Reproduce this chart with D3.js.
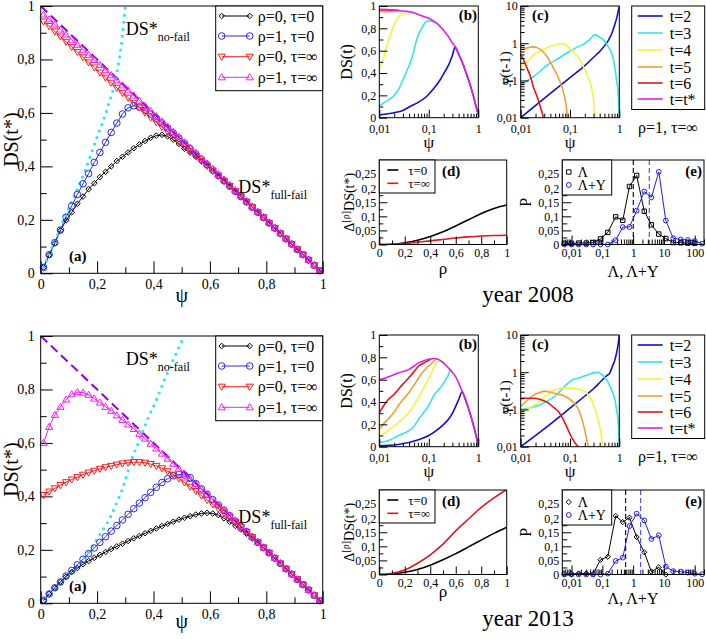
<!DOCTYPE html>
<html>
<head>
<meta charset="utf-8">
<script src="https://cdn.jsdelivr.net/npm/d3@7"></script>
<style>body{margin:0;background:#fff}</style>
</head>
<body>
<script>
const FONT = '"Liberation Serif", "Times New Roman", serif';

// ---------- data ----------
const psiA = [0.01,0.03,0.05,0.07,0.09,0.11,0.13,0.15,0.17,0.19,0.21,0.23,0.25,0.27,0.29,0.31,0.33,0.35,0.37,0.39,
  0.41,0.43,0.45,0.47,0.49,0.51,0.53,0.55,0.57,0.59,0.61,0.63,0.65,0.67,0.69,0.71,0.73,0.75,0.77,0.79,
  0.81,0.83,0.85,0.87,0.89,0.91,0.93,0.95,0.97,0.99];

const a08_r0t0 = [0.022,0.068,0.112,0.16,0.198,0.228,0.26,0.287,0.315,0.337,0.36,0.38,0.40,0.42,0.436,0.452,0.468,0.482,0.495,0.507,
  0.515,0.518,0.512,0.5,0.484,0.466,0.452,0.436,0.42,0.402,0.383,0.364,0.345,0.325,0.306,0.286,0.267,0.247,0.228,0.208,
  0.188,0.169,0.149,0.129,0.109,0.089,0.07,0.05,0.03,0.01];
const a08_r1t0 = [0.022,0.07,0.115,0.162,0.21,0.252,0.295,0.335,0.373,0.415,0.452,0.49,0.527,0.562,0.596,0.619,0.627,0.622,0.61,0.596,
  0.58,0.562,0.544,0.525,0.506,0.486,0.466,0.446,0.426,0.406,0.386,0.366,0.346,0.326,0.306,0.287,0.267,0.247,0.228,0.208,
  0.188,0.169,0.149,0.129,0.109,0.089,0.07,0.05,0.03,0.01];
const a08_r0tinf = [0.942,0.925,0.905,0.886,0.866,0.847,0.828,0.808,0.789,0.77,0.751,0.732,0.713,0.694,0.675,0.657,0.638,0.62,0.601,0.583,
  0.565,0.547,0.529,0.511,0.493,0.475,0.457,0.439,0.42,0.402,0.383,0.365,0.346,0.327,0.307,0.288,0.268,0.248,0.228,0.209,
  0.189,0.169,0.149,0.129,0.109,0.09,0.07,0.05,0.03,0.01];
const a08_r1tinf = [0.968,0.95,0.931,0.912,0.893,0.874,0.855,0.836,0.817,0.798,0.779,0.76,0.741,0.722,0.703,0.684,0.665,0.646,0.626,0.607,
  0.588,0.568,0.549,0.529,0.51,0.49,0.47,0.451,0.431,0.411,0.391,0.371,0.351,0.331,0.311,0.29,0.27,0.25,0.23,0.21,
  0.19,0.17,0.15,0.13,0.11,0.09,0.07,0.05,0.03,0.01];
const a13_r0t0 = [0.01,0.035,0.058,0.08,0.1,0.117,0.132,0.146,0.158,0.17,0.181,0.192,0.203,0.213,0.223,0.233,0.243,0.252,0.262,0.271,
  0.28,0.289,0.297,0.305,0.313,0.32,0.326,0.332,0.336,0.338,0.336,0.33,0.318,0.305,0.29,0.276,0.26,0.243,0.226,0.207,
  0.188,0.169,0.149,0.129,0.109,0.089,0.07,0.05,0.03,0.01];
const a13_r1t0 = [0.012,0.035,0.058,0.08,0.102,0.123,0.144,0.165,0.186,0.207,0.228,0.249,0.27,0.291,0.312,0.333,0.354,0.375,0.395,0.415,
  0.434,0.452,0.466,0.477,0.482,0.48,0.47,0.448,0.428,0.408,0.388,0.368,0.348,0.328,0.308,0.288,0.268,0.248,0.228,0.208,
  0.189,0.169,0.149,0.129,0.109,0.089,0.07,0.05,0.03,0.01];
const a13_r0tinf = [0.405,0.418,0.43,0.442,0.453,0.463,0.472,0.481,0.489,0.496,0.503,0.509,0.514,0.519,0.523,0.526,0.528,0.528,0.526,0.521,
  0.514,0.505,0.494,0.481,0.467,0.452,0.436,0.42,0.403,0.386,0.37,0.354,0.338,0.321,0.303,0.285,0.267,0.248,0.228,0.209,
  0.189,0.169,0.149,0.129,0.109,0.09,0.07,0.05,0.03,0.01];
const a13_r1tinf = [0.6,0.66,0.705,0.735,0.762,0.782,0.79,0.788,0.78,0.766,0.751,0.735,0.72,0.703,0.686,0.669,0.652,0.634,0.616,0.597,
  0.579,0.56,0.541,0.522,0.503,0.484,0.465,0.446,0.427,0.407,0.388,0.368,0.349,0.329,0.309,0.289,0.269,0.249,0.229,0.209,
  0.19,0.17,0.15,0.13,0.11,0.09,0.07,0.05,0.03,0.01];

const noFail08 = [[0,0],[0.02,0.045],[0.04,0.095],[0.06,0.145],[0.08,0.195],[0.1,0.245],[0.12,0.29],[0.14,0.34],[0.16,0.39],
  [0.18,0.45],[0.2,0.51],[0.22,0.565],[0.24,0.63],[0.26,0.7],[0.27,0.75],[0.28,0.81],[0.29,0.89],[0.3,1.0]];
const noFail13 = [[0,0],[0.05,0.05],[0.1,0.105],[0.15,0.165],[0.2,0.24],[0.25,0.33],[0.3,0.46],[0.32,0.53],[0.35,0.61],
  [0.38,0.69],[0.41,0.76],[0.44,0.84],[0.47,0.91],[0.5,0.98]];
const fullFail = [[0,1],[1,0]];

const aLegend = ["ρ=0, τ=0", "ρ=1, τ=0", "ρ=0, τ=∞", "ρ=1, τ=∞"];
const tLegend = ["t=2", "t=3", "t=4", "t=5", "t=6", "t=t*"];

// panel (b): DS(t) vs psi, rho=1 tau=inf
const b08_t2 = [[0.01,0.024],[0.015,0.035],[0.02,0.045],[0.03,0.065],[0.042,0.1],[0.06,0.135],[0.09,0.19],[0.12,0.25],[0.17,0.34],
  [0.21,0.41],[0.25,0.47],[0.3,0.56],[0.34,0.632],[0.4,0.57],[0.5,0.47],[0.6,0.37],[0.7,0.28],[0.8,0.19],[0.9,0.1],[1.0,0.03]];
const b08_t3 = [[0.01,0.105],[0.013,0.14],[0.019,0.19],[0.025,0.26],[0.03,0.34],[0.036,0.42],[0.042,0.49],[0.05,0.6],[0.057,0.7],
  [0.068,0.78],[0.078,0.83],[0.09,0.862],[0.1,0.868],[0.115,0.862],[0.133,0.852],[0.15,0.84]];
const b08_t4 = [[0.01,0.44],[0.012,0.52],[0.014,0.635],[0.017,0.74],[0.019,0.815],[0.022,0.87],[0.024,0.9],[0.027,0.92],[0.03,0.93],
  [0.04,0.932],[0.05,0.935],[0.06,0.928]];
const b08_t5 = [[0.01,0.952],[0.015,0.95],[0.02,0.952],[0.025,0.955]];
const b08_t6 = [[0.01,0.966],[0.02,0.962]];
const b08_ts = [[0.01,0.97],[0.02,0.965],[0.03,0.955],[0.05,0.94],[0.07,0.915],[0.1,0.89],[0.15,0.84],[0.2,0.78],[0.25,0.725],
  [0.3,0.67],[0.34,0.635],[0.4,0.57],[0.5,0.47],[0.6,0.37],[0.7,0.28],[0.8,0.19],[0.9,0.1],[0.95,0.06],[1.0,0.03]];

const b13_t2 = [[0.01,0.009],[0.024,0.02],[0.062,0.062],[0.098,0.098],[0.155,0.157],[0.2,0.2],[0.25,0.245],[0.3,0.3],[0.34,0.35],
  [0.4,0.42],[0.47,0.49],[0.55,0.42],[0.68,0.3],[0.8,0.19],[0.9,0.1],[1.0,0.01]];
const b13_t3 = [[0.01,0.038],[0.015,0.053],[0.024,0.098],[0.039,0.142],[0.05,0.18],[0.062,0.245],[0.08,0.31],[0.098,0.364],
  [0.13,0.467],[0.18,0.54],[0.22,0.6],[0.25,0.645],[0.268,0.683],[0.3,0.66]];
const b13_t4 = [[0.01,0.098],[0.015,0.142],[0.024,0.216],[0.039,0.305],[0.05,0.37],[0.062,0.44],[0.08,0.53],[0.098,0.6],
  [0.13,0.72],[0.15,0.76],[0.18,0.765]];
const b13_t5 = [[0.01,0.157],[0.012,0.2],[0.015,0.245],[0.02,0.31],[0.024,0.364],[0.03,0.42],[0.039,0.48],[0.05,0.55],
  [0.062,0.615],[0.08,0.68],[0.098,0.72],[0.13,0.77],[0.14,0.785]];
const b13_t6 = [[0.01,0.305],[0.012,0.36],[0.015,0.42],[0.02,0.47],[0.024,0.51],[0.03,0.56],[0.039,0.615],[0.05,0.67],
  [0.062,0.72],[0.08,0.75],[0.098,0.772],[0.11,0.785]];
const b13_ts = [[0.01,0.6],[0.015,0.624],[0.024,0.66],[0.039,0.69],[0.05,0.72],[0.062,0.75],[0.08,0.77],[0.1,0.783],[0.13,0.79],
  [0.15,0.785],[0.18,0.765],[0.22,0.73],[0.27,0.69],[0.35,0.625],[0.47,0.5],[0.55,0.43],[0.68,0.3],[0.8,0.19],[0.9,0.1],[1.0,0.01]];

// panel (c): gamma(t-1) vs psi (log-log)
const c08_t2 = [[0.01,0.01],[0.03,0.033],[0.1,0.12],[0.2,0.25],[0.3,0.42],[0.4,0.6],[0.5,0.85],[0.6,1.2],[0.7,1.8],[0.8,3.0],
  [0.9,5.2],[0.95,7.2],[1.0,10]];
const c08_t3 = [[0.01,0.076],[0.018,0.126],[0.039,0.29],[0.06,0.4],[0.085,0.54],[0.13,0.75],[0.19,0.95],[0.25,1.25],[0.32,1.7],
  [0.4,1.45],[0.48,1.22],[0.55,0.95],[0.65,0.66],[0.73,0.45],[0.81,0.23],[0.88,0.1],[0.95,0.045],[0.99,0.015],[1.0,0.01]];
const c08_t4 = [[0.01,0.235],[0.014,0.33],[0.018,0.48],[0.025,0.62],[0.039,0.81],[0.05,0.9],[0.065,0.97],[0.075,0.95],[0.1,0.72],
  [0.14,0.45],[0.19,0.23],[0.24,0.11],[0.28,0.055],[0.3,0.03],[0.31,0.015],[0.32,0.01]];
const c08_t5 = [[0.01,0.68],[0.014,0.76],[0.018,0.8],[0.022,0.75],[0.028,0.6],[0.035,0.42],[0.045,0.23],[0.055,0.14],[0.063,0.09],
  [0.072,0.055],[0.08,0.03],[0.085,0.018],[0.088,0.01]];
const c08_t6 = [[0.01,0.48],[0.011,0.4],[0.013,0.24],[0.016,0.12],[0.018,0.068],[0.021,0.04],[0.025,0.02],[0.027,0.014],[0.029,0.01]];

const c13_t2 = [[0.01,0.01],[0.03,0.03],[0.093,0.1],[0.2,0.23],[0.3,0.36],[0.44,0.6],[0.55,0.8],[0.64,0.95],[0.72,1.4],[0.81,2.1],
  [0.9,3.8],[0.95,5.8],[1.0,10]];
const c13_t3 = [[0.01,0.1],[0.015,0.11],[0.023,0.128],[0.035,0.17],[0.05,0.23],[0.07,0.36],[0.09,0.5],[0.11,0.62],[0.15,0.7],
  [0.23,0.86],[0.3,0.96],[0.37,1.0],[0.45,0.85],[0.52,0.7],[0.6,0.52],[0.7,0.33],[0.81,0.19],[0.9,0.08],[0.94,0.055],[0.98,0.02],[1.0,0.01]];
const c13_t4 = [[0.01,0.08],[0.015,0.11],[0.023,0.15],[0.035,0.25],[0.05,0.34],[0.065,0.37],[0.08,0.38],[0.11,0.375],[0.14,0.36],
  [0.17,0.34],[0.22,0.27],[0.27,0.19],[0.32,0.1],[0.37,0.055],[0.42,0.025],[0.44,0.015],[0.46,0.01]];
const c13_t5 = [[0.01,0.12],[0.015,0.2],[0.019,0.25],[0.025,0.29],[0.031,0.31],[0.04,0.29],[0.05,0.27],[0.07,0.24],[0.093,0.2],
  [0.12,0.15],[0.149,0.1],[0.175,0.055],[0.2,0.027],[0.22,0.015],[0.235,0.01]];
const c13_t6 = [[0.01,0.2],[0.019,0.2],[0.027,0.18],[0.036,0.15],[0.046,0.115],[0.058,0.088],[0.075,0.05],[0.093,0.027],
  [0.11,0.017],[0.13,0.012],[0.148,0.01]];

// panel (d): Delta^[rho] DS(t*) vs rho
const rhoD = [0, 0.1, 0.2, 0.3, 0.4, 0.5, 0.6, 0.7, 0.8, 0.9, 1];
const d08_t0 = [0, 0.001, 0.006, 0.015, 0.028, 0.045, 0.066, 0.088, 0.11, 0.128, 0.14];
const d08_tinf = [0, 0.001, 0.003, 0.008, 0.013, 0.018, 0.023, 0.027, 0.03, 0.032, 0.033];
const d13_t0 = [0, 0.002, 0.008, 0.018, 0.033, 0.052, 0.074, 0.098, 0.122, 0.146, 0.168];
const d13_tinf = [0, 0.004, 0.016, 0.04, 0.07, 0.108, 0.155, 0.197, 0.238, 0.272, 0.302];

// panel (e): distributions P(Lambda), P(Lambda+Y)
const eBins = [0.0058,0.01,0.017,0.03,0.05,0.087,0.15,0.27,0.46,0.76,1.3,2.3,3.9,6.8,11.5,20,35,60,100,174];
const e08_L  = [0.004,0.004,0.005,0.005,0.007,0.02,0.043,0.098,0.086,0.206,0.245,0.118,0.07,0.037,0.021,0.007,0.006,0.005,0.004,null];
const e08_LY = [0,0,0,0,0,0,0,0.015,0.062,0.062,0.12,0.188,0.167,0.258,0.085,0.022,0.018,0.016,0.012,0.003];
const e13_L  = [0.002,0.002,0.004,0.004,0.002,0.052,0.063,0.208,0.186,0.202,0.133,0.079,0.01,0.026,0,null,null,null,null,null];
const e13_LY = [0,0,0,0,0,0,0.003,0.048,0.06,0.172,0.216,0.192,0.126,0.139,0.028,0.012,0.01,0.007,0.003,0.001];
const e08_mean = [1.01, 3.34];
const e13_mean = [0.57, 1.75];

// ticks
const aTicks = [0, 0.2, 0.4, 0.6, 0.8, 1];
const bTicksY = [0, 0.2, 0.4, 0.6, 0.8, 1];
const logTicksB = [0.01, 0.1, 1];
const logTicksC = [0.01, 0.1, 1, 10];
const dTicksX = [0, 0.2, 0.4, 0.6, 0.8, 1];
const dTicksY = [0, 0.05, 0.1, 0.15, 0.2, 0.25];
const eTicksX = [0.01, 0.1, 1, 10, 100];

// ---------- helpers ----------
const comma = d => String(d).replace(".", ",");
const tCols = ["#1010c8", "#33e4ec", "#f4f43c", "#f0a030", "#e01818", "#e020e0"];

const svg = d3.select("body").append("svg")
  .attr("width", 706).attr("height", 639)
  .attr("font-family", FONT);

let clipN = 0;
function clipped(g, w, h) {
  const id = "clip" + (clipN++);
  g.append("clipPath").attr("id", id).append("rect").attr("width", w).attr("height", h);
  return g.append("g").attr("clip-path", `url(#${id})`);
}

function logMinor(lo, hi) {
  const out = [];
  for (let e = -3; e <= 3; e++)
    for (let m = 2; m <= 9; m++) {
      const v = m * Math.pow(10, e);
      if (v >= lo * 0.999 && v <= hi * 1.001) out.push(v);
    }
  return out;
}

function styleAxis(a, fs) {
  a.select(".domain").remove();
  a.selectAll("line").attr("stroke", "#000");
  a.selectAll("text").attr("fill", "#000").attr("font-family", FONT).attr("font-size", fs);
}

function axes(g, x, y, h, o) {
  g.append("g").attr("transform", `translate(0,${h})`)
    .call(d3.axisBottom(x).tickValues(o.xMinor).tickSize(-o.mn).tickFormat(""))
    .call(a => styleAxis(a, o.fs));
  g.append("g").attr("transform", `translate(0,${h})`)
    .call(d3.axisBottom(x).tickValues(o.xMajor).tickSize(-o.mj).tickPadding(o.padX).tickFormat(comma))
    .call(a => styleAxis(a, o.fs));
  g.append("g")
    .call(d3.axisLeft(y).tickValues(o.yMinor).tickSize(-o.mn).tickFormat(""))
    .call(a => styleAxis(a, o.fs));
  g.append("g")
    .call(d3.axisLeft(y).tickValues(o.yMajor).tickSize(-o.mj).tickPadding(o.padY).tickFormat(comma))
    .call(a => styleAxis(a, o.fs));
}

function frame(g, w, h) {
  g.append("rect").attr("width", w).attr("height", h)
    .attr("fill", "none").attr("stroke", "#000").attr("stroke-width", 1);
}

function marker(type, s) {
  switch (type) {
    case "diamond": return `M0,${-s}L${s},0L0,${s}L${-s},0Z`;
    case "circle": return `M${s},0A${s},${s} 0 1,1 ${-s},0A${s},${s} 0 1,1 ${s},0Z`;
    case "tridown": return `M${-s},${-s * 0.7}L${s},${-s * 0.7}L0,${s}Z`;
    case "triup": return `M${-s},${s * 0.7}L${s},${s * 0.7}L0,${-s}Z`;
    case "square": return `M${-s},${-s}H${s}V${s}H${-s}Z`;
  }
}

function label(x, y, txt, fs, opt = {}) {
  const t = svg.append("text").attr("x", x).attr("y", y)
    .attr("font-size", fs).attr("text-anchor", opt.anchor || "middle")
    .attr("font-weight", opt.bold ? "bold" : null);
  if (opt.rot) t.attr("transform", `rotate(-90,${x},${y})`);
  t.text(txt);
  return t;
}

// ---------- panel (a) ----------
function panelA(top, s, noFail, lab) {
  const x0 = 40.7, w = 282, h = 267.3;
  const g = svg.append("g").attr("transform", `translate(${x0},${top})`);
  const x = d3.scaleLinear().domain([0, 1]).range([0, w]);
  const y = d3.scaleLinear().domain([0, 1]).range([h, 0]);
  const plot = clipped(g, w, h);

  axes(g, x, y, h, {xMajor: aTicks, xMinor: d3.range(0.1, 1, 0.2), yMajor: aTicks, yMinor: d3.range(0.1, 1, 0.2),
    mj: 12, mn: 6, fs: 14, padX: 6, padY: 6});

  const line = d3.line().x(d => x(d[0])).y(d => y(d[1]));
  const series = [
    {v: s[0], c: "#000000", m: "diamond", r: 2.8},
    {v: s[1], c: "#2a2ae0", m: "circle", r: 3.3},
    {v: s[2], c: "#f02020", m: "tridown", r: 3.6},
    {v: s[3], c: "#f020f0", m: "triup", r: 3.6}
  ];
  series.forEach(sr => {
    const pts = psiA.map((p, i) => [p, sr.v[i]]);
    plot.append("path").datum(pts).attr("d", line)
      .attr("fill", "none").attr("stroke", sr.c).attr("stroke-width", 1);
    g.append("g").selectAll("path").data(pts).join("path")
      .attr("transform", d => `translate(${x(d[0])},${y(d[1])})`)
      .attr("d", marker(sr.m, sr.r))
      .attr("fill", "none").attr("stroke", sr.c).attr("stroke-width", 1);
  });

  plot.append("path").datum(fullFail).attr("d", line)
    .attr("fill", "none").attr("stroke", "#9400d3").attr("stroke-width", 2)
    .attr("stroke-dasharray", "9,5");
  plot.append("path").datum(noFail).attr("d", line.curve(d3.curveMonotoneX))
    .attr("fill", "none").attr("stroke", "#2ee6ee").attr("stroke-width", 3.2)
    .attr("stroke-linecap", "round").attr("stroke-dasharray", "0,7");

  frame(g, w, h);

  // legend
  const lg = g.append("g").attr("transform", `translate(175,0)`);
  lg.append("rect").attr("width", w - 175).attr("height", 84.7)
    .attr("fill", "#fff").attr("stroke", "#000");
  const rows = [10, 30, 50.7, 71.3];
  series.forEach((sr, i) => {
    lg.append("line").attr("x1", 6).attr("x2", 34).attr("y1", rows[i]).attr("y2", rows[i])
      .attr("stroke", sr.c).attr("stroke-width", 1);
    [6, 34].forEach(px => lg.append("path").attr("transform", `translate(${px},${rows[i]})`)
      .attr("d", marker(sr.m, sr.r)).attr("fill", "none").attr("stroke", sr.c));
    lg.append("text").attr("x", 42).attr("y", rows[i]).attr("dy", "0.35em")
      .attr("font-size", 16).text(aLegend[i]);
  });

  // annotations
  const t1 = g.append("text").attr("x", x(0.302)).attr("y", y(0.89)).attr("font-size", 18);
  t1.append("tspan").text("DS*");
  t1.append("tspan").attr("dy", 6).attr("font-size", 12).text("no-fail");
  const t2 = g.append("text").attr("x", x(0.701)).attr("y", y(0.3)).attr("font-size", 18);
  t2.append("tspan").text("DS*");
  t2.append("tspan").attr("dy", 6).attr("font-size", 12).text("full-fail");
  g.append("text").attr("x", x(0.1)).attr("y", y(0.045)).attr("font-size", 15)
    .attr("font-weight", "bold").text("(a)");

  label(18, top + h / 2, "DS(t*)", 20, {rot: true});
  label(x0 + w / 2, top + h + lab, "ψ", 20);
}

// ---------- panel (b) ----------
function panelB(top, curves) {
  const x0 = 379.3, w = 99, h = 111.7;
  const g = svg.append("g").attr("transform", `translate(${x0},${top})`);
  const x = d3.scaleLog().domain([0.01, 1]).range([0, w]);
  const y = d3.scaleLinear().domain([0, 1]).range([h, 0]);
  const plot = clipped(g, w, h);
  axes(g, x, y, h, {xMajor: logTicksB, xMinor: logMinor(0.01, 1), yMajor: bTicksY, yMinor: d3.range(0.1, 1, 0.2),
    mj: 8, mn: 4, fs: 12, padX: 7, padY: 3});
  const line = d3.line().x(d => x(d[0])).y(d => y(d[1])).curve(d3.curveMonotoneX);
  curves.forEach((c, i) => {
    plot.append("path").datum(c).attr("d", line).attr("fill", "none")
      .attr("stroke", tCols[i]).attr("stroke-width", 1.6);
  });
  frame(g, w, h);
  svg.append("text").attr("x", 477).attr("y", top + 14).attr("text-anchor", "end")
    .attr("font-size", 15).attr("font-weight", "bold").text("(b)");
  label(352, top + h / 2, "DS(t)", 16, {rot: true});
  label(x0 + w / 2, top + h + 30, "ψ", 17);
}

// ---------- panel (c) ----------
function panelC(top, curves) {
  const x0 = 520.7, w = 98.6, h = 111.7;
  const g = svg.append("g").attr("transform", `translate(${x0},${top})`);
  const x = d3.scaleLog().domain([0.01, 1]).range([0, w]);
  const y = d3.scaleLog().domain([0.01, 10]).range([h, 0]);
  const plot = clipped(g, w, h);
  axes(g, x, y, h, {xMajor: logTicksB, xMinor: logMinor(0.01, 1), yMajor: logTicksC, yMinor: logMinor(0.01, 10),
    mj: 8, mn: 4, fs: 12, padX: 7, padY: 3});
  const line = d3.line().x(d => x(d[0])).y(d => y(d[1])).curve(d3.curveMonotoneX);
  curves.forEach((c, i) => {
    plot.append("path").datum(c).attr("d", line).attr("fill", "none")
      .attr("stroke", tCols[i]).attr("stroke-width", 1.6);
  });
  frame(g, w, h);
  svg.append("text").attr("x", 532).attr("y", top + 14)
    .attr("font-size", 15).attr("font-weight", "bold").text("(c)");
  label(510, top + h / 2 + 6, "γ(t-1)", 15, {rot: true});
  label(x0 + w / 2, top + h + 30, "ψ", 17);

  // legend for (b)/(c)
  const lg = svg.append("g").attr("transform", `translate(631.7,${top})`);
  lg.append("rect").attr("width", 73).attr("height", 103.5).attr("fill", "#fff").attr("stroke", "#000");
  const rows = [10, 27, 44, 61, 77, 93];
  tLegend.forEach((t, i) => {
    lg.append("line").attr("x1", 6).attr("x2", 31).attr("y1", rows[i]).attr("y2", rows[i])
      .attr("stroke", tCols[i]).attr("stroke-width", 1.6);
    lg.append("text").attr("x", 38).attr("y", rows[i]).attr("dy", "0.35em").attr("font-size", 16).text(t);
  });
  label(668, top + 127, "ρ=1, τ=∞", 16);
}

// ---------- panel (d) ----------
function panelD(top, s0, sInf, lab) {
  const x0 = 379.3, w = 127.4, h = 84.5;
  const g = svg.append("g").attr("transform", `translate(${x0},${top})`);
  const x = d3.scaleLinear().domain([0, 1]).range([0, w]);
  const y = d3.scaleLinear().domain([0, 0.3]).range([h, 0]);
  const plot = clipped(g, w, h);
  axes(g, x, y, h, {xMajor: dTicksX, xMinor: d3.range(0.1, 1, 0.2), yMajor: dTicksY, yMinor: d3.range(0.025, 0.3, 0.05),
    mj: 8, mn: 4, fs: 12, padX: 4, padY: 3});
  const line = d3.line().x(d => x(d[0])).y(d => y(d[1])).curve(d3.curveMonotoneX);
  const cols = ["#000000", "#e01818"];
  [s0, sInf].forEach((v, i) => {
    plot.append("path").datum(rhoD.map((r, k) => [r, v[k]])).attr("d", line)
      .attr("fill", "none").attr("stroke", cols[i]).attr("stroke-width", 1.6);
  });
  frame(g, w, h);
  const lg = g.append("g");
  lg.append("rect").attr("width", 55.7).attr("height", 33).attr("fill", "#fff").attr("stroke", "#000");
  ["τ=0", "τ=∞"].forEach((t, i) => {
    const yy = 10 + i * 13.3;
    lg.append("line").attr("x1", 8).attr("x2", 19).attr("y1", yy).attr("y2", yy)
      .attr("stroke", cols[i]).attr("stroke-width", 1.6);
    lg.append("text").attr("x", 29).attr("y", yy).attr("dy", "0.35em").attr("font-size", 13).text(t);
  });
  svg.append("text").attr("x", 442).attr("y", top + 16)
    .attr("font-size", 15).attr("font-weight", "bold").text("(d)");
  const yl = svg.append("text").attr("x", 354).attr("y", top + h / 2).attr("font-size", 14)
    .attr("text-anchor", "middle").attr("transform", `rotate(-90,354,${top + h / 2})`);
  yl.append("tspan").text("Δ");
  yl.append("tspan").attr("dy", -5).attr("font-size", 10).text("[ρ]");
  yl.append("tspan").attr("dy", 5).text("DS(t*)");
  label(x0 + w / 2, top + h + lab, "ρ", 17);
}

// ---------- panel (e) ----------
function panelE(top, sL, sLY, means, mk, lab) {
  const x0 = 562.3, w = 141.7, h = 84.5;
  const g = svg.append("g").attr("transform", `translate(${x0},${top})`);
  const x = d3.scaleLog().domain([0.005, 200]).range([0, w]);
  const y = d3.scaleLinear().domain([0, 0.3]).range([h, 0]);
  const plot = clipped(g, w, h);
  axes(g, x, y, h, {xMajor: eTicksX, xMinor: logMinor(0.005, 200), yMajor: dTicksY, yMinor: d3.range(0.025, 0.3, 0.05),
    mj: 9, mn: 5, fs: 12, padX: 4, padY: 3});
  const cols = ["#000000", "#2020d8"];
  means.forEach((m, i) => {
    plot.append("line").attr("x1", x(m)).attr("x2", x(m)).attr("y1", 0).attr("y2", h)
      .attr("stroke", i ? "#4848e0" : "#000").attr("stroke-width", 1.1).attr("stroke-dasharray", "5,3");
  });
  const line = d3.line().defined(d => d[1] !== null).x(d => x(d[0])).y(d => y(d[1]));
  const marks = [mk, "circle"], sizes = [mk === "square" ? 2.2 : 2.6, 2.4];
  [sL, sLY].forEach((v, i) => {
    const pts = eBins.map((b, k) => [b, v[k]]).filter(d => d[1] !== null);
    plot.append("path").datum(pts).attr("d", line)
      .attr("fill", "none").attr("stroke", cols[i]).attr("stroke-width", 1);
    g.append("g").selectAll("path").data(pts).join("path")
      .attr("transform", d => `translate(${x(d[0])},${y(d[1])})`)
      .attr("d", marker(marks[i], sizes[i]))
      .attr("fill", "none").attr("stroke", cols[i]).attr("stroke-width", 1);
  });
  frame(g, w, h);
  const lg = g.append("g");
  lg.append("rect").attr("width", 49.4).attr("height", 35).attr("fill", "#fff").attr("stroke", "#000");
  ["Λ", "Λ+Y"].forEach((t, i) => {
    const yy = 12 + i * 13;
    lg.append("path").attr("transform", `translate(6.5,${yy})`).attr("d", marker(marks[i], sizes[i]))
      .attr("fill", "none").attr("stroke", cols[i]);
    lg.append("text").attr("x", 15.5).attr("y", yy).attr("dy", "0.35em").attr("font-size", 14).text(t);
  });
  svg.append("text").attr("x", 702).attr("y", top + 16).attr("text-anchor", "end")
    .attr("font-size", 15).attr("font-weight", "bold").text("(e)");
  label(531, top + h / 2, "P", 16, {rot: true});
  label(633, top + h + lab, "Λ, Λ+Y", 16);
}

// ---------- build ----------
panelA(6, [a08_r0t0, a08_r1t0, a08_r0tinf, a08_r1tinf], noFail08, 29);
panelA(336, [a13_r0t0, a13_r1t0, a13_r0tinf, a13_r1tinf], noFail13, 25);

panelB(6, [b08_t2, b08_t3, b08_t4, b08_t5, b08_t6, b08_ts]);
panelB(335, [b13_t2, b13_t3, b13_t4, b13_t5, b13_t6, b13_ts]);

panelC(6, [c08_t2, c08_t3, c08_t4, c08_t5, c08_t6]);
panelC(335, [c13_t2, c13_t3, c13_t4, c13_t5, c13_t6]);

panelD(160, d08_t0, d08_tinf, 29);
panelD(490, d13_t0, d13_tinf, 22);

panelE(160, e08_L, e08_LY, e08_mean, "square", 32);
panelE(490, e13_L, e13_LY, e13_mean, "diamond", 29);

label(528, 302, "year 2008", 23);
label(528, 626, "year 2013", 23);
</script>
</body>
</html>
